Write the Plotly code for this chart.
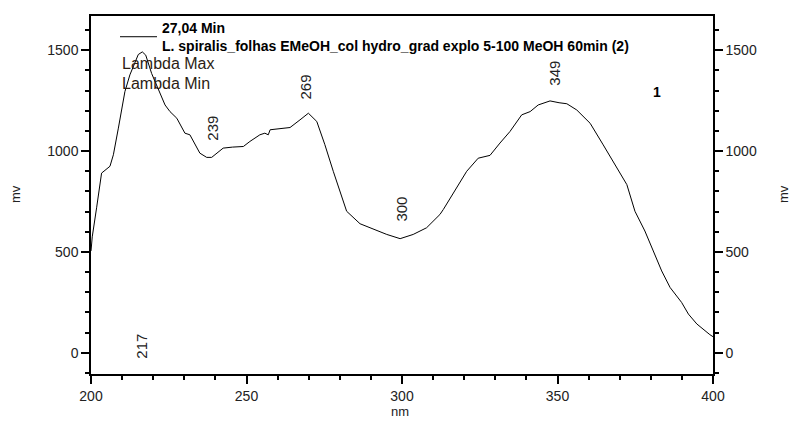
import plotly.graph_objects as go
import numpy as np

# Spectrum (wavelength in nm, signal in mV)
wavelength_nm = [200, 200.4, 201.8, 203.4, 206.1, 207.2, 208.8, 210.9, 212.5, 214.1,
                 215.2, 216.5, 217.6, 219.5, 221.6, 223.8, 225.4, 227.6, 230.2, 231.8,
                 235.0, 237.2, 238.8, 242.5, 245.5, 249.0, 251.1, 254.3, 255.9, 257.0,
                 257.6, 261.0, 264.0, 267.2, 269.9, 272.6, 275.2, 277.9, 280.1, 282.2,
                 286.5, 290.8, 295.1, 299.4, 303.6, 307.9, 312.2, 313.3, 317.6, 320.8,
                 324.5, 328.3, 331.5, 334.7, 338.5, 341.2, 343.8, 347.6, 350.5, 353.0,
                 356.2, 360.5, 364.7, 368.5, 372.3, 374.9, 378.1, 380.8, 383.5, 386.2,
                 389.9, 392.1, 394.8, 399.0, 400.0]
signal_mv = [505, 575, 719, 891, 925, 982, 1114, 1295, 1378, 1443,
             1479, 1492, 1476, 1385, 1311, 1229, 1196, 1163, 1089, 1081,
             990, 969, 969, 1015, 1020, 1023, 1048, 1081, 1089, 1081,
             1106, 1110, 1117, 1155, 1188, 1147, 1032, 900, 801, 702,
             640, 612, 587, 566, 587, 620, 686, 711, 817, 900,
             965, 979, 1040, 1097, 1180, 1196, 1229, 1249, 1240, 1235,
             1204, 1138, 1031, 933, 834, 702, 604, 505, 406, 324,
             250, 192, 143, 90, 80]

peak_nm = [217, 239, 269, 300, 349]
peak_text = ["217", "239", "269", "300", "349"]

x_tick_vals = [200, 250, 300, 350, 400]
y_tick_vals = [0, 500, 1000, 1500]

legend_time = "27,04 Min"
legend_sample = "L. spiralis_folhas EMeOH_col hydro_grad explo 5-100 MeOH 60min (2)"
lambda_labels = ["Lambda Max", "Lambda Min"]
peak_number = "1"

FONT = "Liberation Sans, Arial, sans-serif"
TXT = "#222222"

fig = go.Figure()
fig.add_trace(go.Scatter(
    x=wavelength_nm, y=signal_mv, mode="lines",
    line=dict(color="black", width=1),
    name="<b>" + legend_time + "</b><br><b>" + legend_sample + "</b>",
))
fig.add_trace(go.Scatter(
    x=wavelength_nm, y=signal_mv, mode="lines", yaxis="y2",
    line=dict(color="rgba(0,0,0,0)", width=0), showlegend=False, hoverinfo="skip",
))

yr = [-105, 1670]
axis_common = dict(
    showgrid=False, zeroline=False, showline=True, linecolor="black", linewidth=1.5,
    ticks="outside", ticklen=8, tickwidth=1.5, tickcolor="black",
    tickfont=dict(family=FONT, size=14, color=TXT),
)

fig.update_layout(
    width=792, height=421,
    margin=dict(l=91, r=79, t=14, b=47),
    paper_bgcolor="white", plot_bgcolor="white",
    font=dict(family=FONT, color=TXT),
    xaxis=dict(range=[200, 400], tickvals=x_tick_vals, mirror=True,
               minor=dict(dtick=10, tick0=200, ticks="outside", ticklen=4,
                          tickwidth=1.5, tickcolor="black"),
               **axis_common),
    yaxis=dict(range=yr, tickvals=y_tick_vals,
               minor=dict(dtick=100, tick0=0, ticks="outside", ticklen=4,
                          tickwidth=1.5, tickcolor="black"),
               **axis_common),
    yaxis2=dict(range=yr, tickvals=y_tick_vals, overlaying="y", side="right",
                minor=dict(dtick=100, tick0=0, ticks="outside", ticklen=4,
                           tickwidth=1.5, tickcolor="black"),
                **axis_common),
    showlegend=True,
    legend=dict(x=(115 - 91) / 622, y=1.0 + 4 / 360, xanchor="left", yanchor="top",
                bgcolor="rgba(0,0,0,0)", borderwidth=0, itemwidth=37,
                font=dict(family=FONT, size=14, color="black"), valign="middle"),
)

ann = []
# peak labels, rotated, placed above the curve
for nm, t in zip(peak_nm, peak_text):
    yv = float(np.interp(nm, wavelength_nm, signal_mv))
    if nm == 217:
        ann.append(dict(x=nm, y=0, xref="x", yref="y", text=t, textangle=-90,
                        showarrow=False, xanchor="center", yanchor="middle", yshift=7,
                        xshift=-2, font=dict(family=FONT, size=15, color=TXT)))
    else:
        ann.append(dict(x=nm, y=yv, xref="x", yref="y", text=t, textangle=-90,
                        showarrow=False, xanchor="center", yanchor="bottom", yshift=14,
                        font=dict(family=FONT, size=15, color=TXT)))

ann.append(dict(x=(120 - 91) / 622, y=1 - (61.5 - 14) / 360, xref="paper", yref="paper",
                text=lambda_labels[0], showarrow=False, xanchor="left", yanchor="middle",
                font=dict(family=FONT, size=16, color="#2b1d14")))
ann.append(dict(x=(120 - 91) / 622, y=1 - (81.7 - 14) / 360, xref="paper", yref="paper",
                text=lambda_labels[1], showarrow=False, xanchor="left", yanchor="middle",
                font=dict(family=FONT, size=16, color="#2b1d14")))
ann.append(dict(x=(657 - 91) / 622, y=1 - (90 - 14) / 360, xref="paper", yref="paper",
                text="<b>" + peak_number + "</b>", showarrow=False, xanchor="center",
                yanchor="middle", font=dict(family=FONT, size=14, color="black")))
# axis titles
ann.append(dict(x=(15 - 91) / 622, y=1 - (193 - 14) / 360, xref="paper", yref="paper",
                text="mv", textangle=-90, showarrow=False, xanchor="center", yanchor="middle",
                font=dict(family=FONT, size=13, color=TXT)))
ann.append(dict(x=(783 - 91) / 622, y=1 - (193 - 14) / 360, xref="paper", yref="paper",
                text="mv", textangle=-90, showarrow=False, xanchor="center", yanchor="middle",
                font=dict(family=FONT, size=13, color=TXT)))
ann.append(dict(x=(400 - 91) / 622, y=-(412 - 374) / 360, xref="paper", yref="paper",
                text="nm", showarrow=False, xanchor="center", yanchor="middle",
                font=dict(family=FONT, size=13, color=TXT)))
fig.update_layout(annotations=ann)

fig.write_html("out.html")
